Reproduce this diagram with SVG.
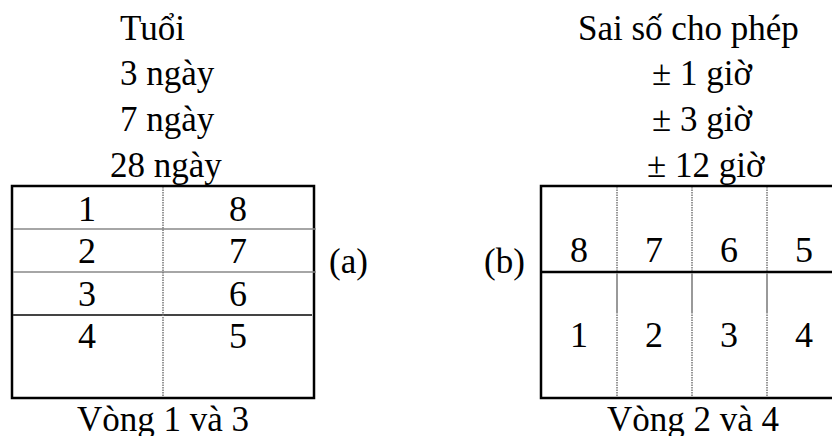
<svg xmlns="http://www.w3.org/2000/svg" width="832" height="436" viewBox="0 0 832 436">
<style>
text{font-family:"Liberation Serif","Times New Roman",serif;fill:#000}
.t{font-size:35px}
.d{font-size:36px;text-anchor:middle}
.m{text-anchor:middle}
.box{fill:#fff;stroke:#000;stroke-width:2.5}
.gl{stroke:#888;stroke-width:1.5}
.dk{stroke:#444;stroke-width:2}
.dot{stroke:#777;stroke-width:1.5;stroke-dasharray:1.5 1}
.sg{stroke:#999;stroke-width:2}
.blk{stroke:#000;stroke-width:2.5}
</style>
<g id="titles-left">
<text class="t" x="120" y="40">Tuổi</text>
<text class="t" x="120" y="85">3 ngày</text>
<text class="t" x="120" y="131">7 ngày</text>
<text class="t" x="110" y="177">28 ngày</text>
</g>
<g id="titles-right">
<text class="t" x="578" y="40">Sai số cho phép</text>
<text class="t" x="652" y="85">± 1 giờ</text>
<text class="t" x="652" y="131">± 3 giờ</text>
<text class="t" x="647" y="177">± 12 giờ</text>
</g>
<g id="table-a">
<rect class="box" x="12" y="186" width="302" height="212"/>
<line class="gl" x1="13" y1="229" x2="316" y2="229"/>
<line class="gl" x1="13" y1="272" x2="316" y2="272"/>
<line class="dk" x1="13" y1="315" x2="312" y2="315"/>
<line class="dot" x1="163" y1="187" x2="163" y2="397"/>
<text class="d" x="87" y="221">1</text>
<text class="d" x="238" y="221">8</text>
<text class="d" x="87" y="263">2</text>
<text class="d" x="238" y="263">7</text>
<text class="d" x="87" y="306">3</text>
<text class="d" x="238" y="306">6</text>
<text class="d" x="87" y="348">4</text>
<text class="d" x="238" y="348">5</text>
</g>
<g id="label-a">
<text class="t" x="329" y="273">(a)</text>
</g>
<g id="label-b">
<text class="t" x="484" y="273">(b)</text>
</g>
<g id="table-b">
<rect class="box" x="541" y="186" width="300" height="212"/>
<line class="blk" x1="541" y1="272" x2="841" y2="272"/>
<line class="dot" x1="617" y1="187" x2="617" y2="271"/>
<line class="dot" x1="692" y1="187" x2="692" y2="271"/>
<line class="dot" x1="767" y1="187" x2="767" y2="271"/>
<line class="sg" x1="617" y1="273" x2="617" y2="312"/>
<line class="sg" x1="692" y1="273" x2="692" y2="312"/>
<line class="sg" x1="767" y1="273" x2="767" y2="312"/>
<line class="dot" x1="617" y1="312" x2="617" y2="397"/>
<line class="dot" x1="692" y1="312" x2="692" y2="397"/>
<line class="dot" x1="767" y1="312" x2="767" y2="397"/>
<text class="d" x="579" y="262">8</text>
<text class="d" x="654" y="262">7</text>
<text class="d" x="729" y="262">6</text>
<text class="d" x="804" y="262">5</text>
<text class="d" x="579" y="347">1</text>
<text class="d" x="654" y="347">2</text>
<text class="d" x="729" y="347">3</text>
<text class="d" x="804" y="347">4</text>
</g>
<g id="captions">
<text class="t m" x="163" y="431">Vòng 1 và 3</text>
<text class="t m" x="693" y="431">Vòng 2 và 4</text>
</g>
</svg>
